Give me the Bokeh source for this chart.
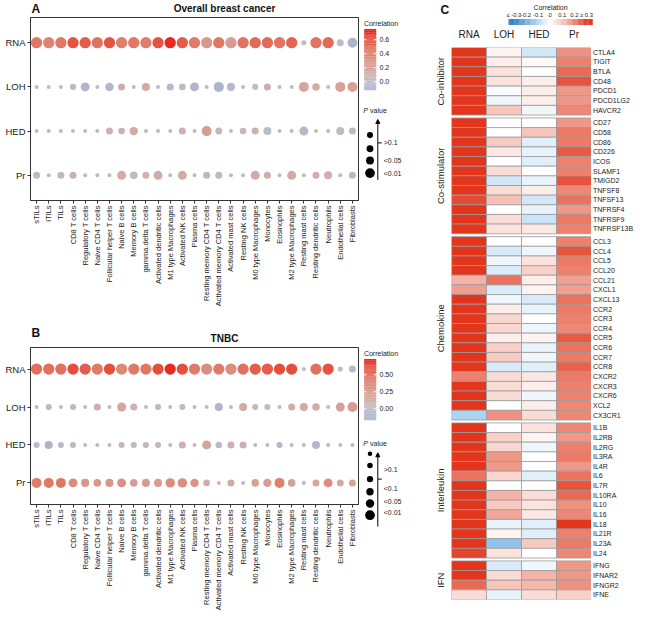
import numpy as np
from bokeh.plotting import figure
from bokeh.layouts import row, column
from bokeh.models import (ColumnDataSource, FactorRange, Range1d, LinearColorMapper, Arrow, NormalHead)
from bokeh.transform import transform
from bokeh.core.properties import value
from bokeh.embed import file_html
from bokeh.resources import INLINE

FONT = "Liberation Sans"
TXT = "#222222"

# ---------------- data: panels A / B ----------------
cells = ["sTILs", "iTILs", "TILs", "CD8 T cells", "Regulatory T cells", "Naive CD4 T cells",
         "Follicular helper T cells", "Naive B cells", "Memory B cells", "gamma.delta T cells",
         "Activated dendritic cells", "M1 type Macrophages", "Activated NK cells", "Plasma cells",
         "Resting memory CD4 T cells", "Activated memory CD4 T cells", "Activated mast cells",
         "Resting NK cells", "M0 type Macrophages", "Monocytes", "Eosinophils", "M2 type Macrophages",
         "Resting mast cells", "Resting dendritic cells", "Neutrophils", "Endothelial cells", "Fibroblasts"]
rows = ["RNA", "LOH", "HED", "Pr"]

# correlation and -log10(P) per row, overall breast cancer
a_rna_r = [.45, .38, .45, .58, .55, .47, .58, .40, .45, .42, .58, .72, .55, .43, .25, .45, .22, .47, .50, .50, .47, .52, .02, .47, .50, .00, -.10]
a_rna_p = [3, 3, 3, 3, 3, 3, 3, 3, 3, 3, 3, 3, 3, 3, 3, 3, 3, 3, 3, 3, 3, 3, .6, 3, 3, 1.35, 2.5]
a_loh_r = [.02, .02, .02, -.02, -.08, .02, -.07, .12, .02, .15, .02, -.05, -.02, -.08, .02, -.10, -.05, .02, .02, .12, .02, .02, .17, .15, .02, .20, .20]
a_loh_p = [.2, .2, .2, 1.0, 2.1, .2, 1.9, 1.35, .2, 1.75, .2, 1.35, 1.2, 2.1, .2, 2.5, 1.75, .2, 1.0, 1.35, .2, .2, 2.5, 1.55, .2, 2.5, 2.5]
a_hed_r = [.03, .03, .03, .03, .03, .03, .10, .08, .15, .03, .03, .03, .12, .03, .22, .03, .03, .03, .10, -.02, .03, .03, -.05, .03, .03, .02, .05]
a_hed_p = [.2, .2, .2, .2, .2, .2, 1.35, 1.2, 1.9, .2, .2, .2, 1.35, .2, 2.5, 1.35, .2, 1.2, 1.35, 1.75, .2, .2, 2.1, .2, .2, 1.75, 1.35]
a_pr_r = [-.03, .03, -.03, .10, .03, .03, .03, .15, -.02, .08, .15, .03, .14, .03, .10, .03, .03, .03, .15, .12, .03, .15, .03, .12, .12, .03, .08]
a_pr_p = [1.35, .2, 1.35, 1.35, .2, .2, .2, 2.1, 1.55, 1.35, 2.1, .2, 2.1, .2, 1.35, 1.35, .2, .2, 2.1, 1.35, .2, 2.1, .2, 1.35, 1.75, .2, 1.35]

# TNBC
b_rna_r = [.48, .48, .48, .60, .55, .43, .60, .35, .45, .45, .60, .72, .60, .43, .30, .43, .30, .48, .55, .55, .60, .60, .00, .48, .58, .02, -.05]
b_rna_p = [3, 3, 3, 3, 3, 3, 3, 3, 3, 3, 3, 3, 3, 3, 3, 3, 3, 3, 3, 3, 3, 3, .3, 3, 3, .6, 1.35]
b_loh_r = [.03, .08, .03, .03, .03, .12, .03, .18, .12, .03, .05, .03, .02, .03, .03, -.10, .03, .15, .05, .05, .03, .12, .15, .15, .03, .20, .22]
b_loh_p = [.2, 1.0, .2, 1.0, .2, 1.35, .2, 2.1, 1.35, .2, 1.0, .2, 1.0, .2, .2, 1.75, .2, 1.75, 1.0, 1.0, .2, 1.35, 1.75, 1.55, .2, 2.1, 2.5]
b_hed_r = [-.02, -.10, -.03, .05, .03, .03, .03, .06, .05, .06, .03, .03, .10, .03, .20, -.02, .10, .12, .03, .03, -.05, .03, .03, -.06, .03, .03, .03]
b_hed_p = [1.0, 1.75, 1.0, 1.0, .2, .2, .2, 1.0, 1.0, 1.0, 1.0, .2, 1.35, .2, 2.1, 1.2, 1.35, 1.35, .2, .2, 1.0, .2, .2, 1.75, .2, .2, .2]
b_pr_r = [.42, .45, .45, .30, .25, .25, .25, .28, .22, .22, .22, .30, .30, .28, .15, .05, .15, .05, .20, .22, .40, .20, .05, .18, .30, .15, .18]
b_pr_p = [2.5, 2.5, 2.5, 2.1, 1.75, 1.55, 1.75, 2.1, 1.55, 1.75, 1.75, 2.3, 2.3, 1.9, 1.2, .2, 1.35, .2, 1.55, 1.9, 2.5, 1.55, .2, 1.35, 2.1, 1.35, 1.35]

# colour-bar ticks and size key (size key values as -log10(P))
a_cb_ticks = [0.0, 0.2, 0.4, 0.6]
a_cb_labels = ["0.0", "0.2", "0.4", "0.6"]
b_cb_ticks = [0.0, 0.25, 0.5]
b_cb_labels = ["0.00", "0.25", "0.50"]
a_key_p = [1.0, 1.3, 1.7, 2.4]
a_key_labels = [">0.1", "<0.05", "<0.01"]
b_key_p = [0.4, 0.8, 1.1, 1.5, 1.9, 2.4]
b_key_labels = [">0.1", "<0.1", "<0.05", "<0.01"]

# ---------------- data: panel C heatmap ----------------
hm_cols = ["RNA", "LOH", "HED", "Pr"]
ci_genes = ["CTLA4", "TIGIT", "BTLA", "CD48", "PDCD1", "PDCD1LG2", "HAVCR2"]
ci_rna = [.35, .35, .35, .35, .35, .35, .35]
ci_loh = [.02, .03, .05, .05, -.01, -.02, .10]
ci_hed = [-.06, .01, .00, .03, .03, .03, -.02]
ci_pr = [.18, .20, .23, .26, .17, .17, .19]

cs_genes = ["CD27", "CD58", "CD86", "CD226", "ICOS", "SLAMF1", "TMIGD2", "TNFSF8", "TNFSF13",
            "TNFRSF4", "TNFRSF9", "TNFRSF13B"]
cs_rna = [.35, .33, .35, .35, .35, .35, .35, .35, .27, .35, .35, .35]
cs_loh = [.00, .00, .09, .04, .00, .06, -.06, .06, .11, .00, .06, .05]
cs_hed = [.00, .10, -.04, -.03, -.04, .00, -.03, .03, -.06, -.03, -.07, .04]
cs_pr = [.17, .21, .21, .25, .20, .20, .26, .19, .22, .17, .21, .20]

ck_genes = ["CCL3", "CCL4", "CCL5", "CCL20", "CCL21", "CXCL1", "CXCL13", "CCR2", "CCR3", "CCR4",
            "CCR5", "CCR6", "CCR7", "CCR8", "CXCR2", "CXCR3", "CXCR6", "XCL2", "CX3CR1"]
ck_rna = [.35, .35, .35, .35, .13, .16, .35, .35, .35, .35, .35, .35, .35, .35, .20, .35, .35, .35, -.11]
ck_loh = [.00, -.05, -.02, -.05, .22, -.05, -.02, .03, .07, .07, .03, .08, .09, -.05, .06, .06, .06, .00, .18]
ck_hed = [.00, -.02, .05, .08, .03, .02, -.05, -.03, .00, -.02, .02, -.03, -.02, -.04, .04, .03, -.02, .03, .06]
ck_pr = [.20, .26, .21, .20, .16, .16, .22, .21, .20, .19, .25, .22, .21, .24, .21, .20, .20, .19, .19]

il_genes = ["IL1B", "IL2RB", "IL2RG", "IL3RA", "IL4R", "IL6", "IL7R", "IL10RA", "IL10", "IL16",
            "IL18", "IL21R", "IL23A", "IL24"]
il_rna = [.30, .35, .35, .35, .35, .22, .35, .35, .35, .35, .35, .35, .33, .28]
il_loh = [.00, .08, .07, .17, .17, .07, .00, .13, .09, .15, -.03, .02, -.15, .05]
il_hed = [.05, .02, -.02, .00, .00, -.04, .00, .06, .05, .04, -.04, -.04, .09, .00]
il_pr = [.19, .17, .20, .21, .17, .22, .26, .23, .18, .19, .33, .20, .21, .19]

ifn_genes = ["IFNG", "IFNAR2", "IFNGR2", "IFNE"]
ifn_rna = [.35, .35, .23, .06]
ifn_loh = [-.05, .06, .10, -.03]
ifn_hed = [-.02, .13, .12, .06]
ifn_pr = [.17, .17, .18, .08]

hm_ticks = [-0.3, -0.2, -0.1, 0.0, 0.1, 0.2, 0.3]
hm_tick_labels = ["\u2264 -0.3", "-0.2", "-0.1", "0", "0.1", "0.2", "\u2265 0.3"]


# ---------------- helpers ----------------
def ramp(anchors, low, high, n=256):
    xs = [a[0] for a in anchors]
    rgb = np.array([[int(h[i:i + 2], 16) for i in (1, 3, 5)] for _, h in anchors], float)
    out = []
    for v in np.linspace(low, high, n):
        c = [int(round(np.interp(v, xs, rgb[:, k]))) for k in range(3)]
        out.append("#%02x%02x%02x" % tuple(c))
    return out


DOT_ANCHORS = [(-0.3, "#9EADD6"), (-0.12, "#A9B4CE"), (0.0, "#BEBDC5"), (0.15, "#D3AAA4"),
               (0.3, "#DC8E7E"), (0.45, "#E07866"), (0.6, "#E4503C"), (0.8, "#E8150F")]


def dot_size(m):
    return 3.5 + 2.6 * min(m, 3.0)


def blank(fig):
    fig.grid.visible = False
    fig.outline_line_color = None
    return fig


def txt(fig, x, y, t, size, **kw):
    fig.text(x=x, y=y, text=t, text_font=value(FONT), text_font_size=value(size),
             text_color=kw.pop("color", TXT), **kw)


def header(letter, title, h, letter_y, title_y):
    f = blank(figure(frame_width=360, frame_height=h, min_border=0,
                     x_range=Range1d(0, 360), y_range=Range1d(h, 0),
                     x_axis_type=None, y_axis_type=None,
                     output_backend="svg", toolbar_location=None))
    txt(f, [1], [letter_y], [letter], "12px", text_font_style="bold", text_baseline="top",
        color="#111111")
    txt(f, [194], [title_y], [title], "10px", text_font_style="bold", text_align="center",
        text_baseline="middle", color="#111111")
    return f


def dot_panel(data, mapper, frame_h):
    xs, ys, cs, ss = [], [], [], []
    for r, (corr, mlp) in zip(rows, data):
        for c, v, m in zip(cells, corr, mlp):
            xs.append(c); ys.append(r); cs.append(v); ss.append(dot_size(m))
    src = ColumnDataSource(dict(cell=xs, row=ys, corr=cs, size=ss))
    p = figure(x_range=FactorRange(*cells),
               y_range=FactorRange(*rows[::-1], range_padding=0.035),
               frame_width=328, frame_height=frame_h,
               min_border_left=30, min_border_right=2, min_border_top=1, min_border_bottom=0,
               output_backend="svg", toolbar_location=None)
    p.scatter("cell", "row", size="size", source=src, fill_color=transform("corr", mapper),
              line_color=None)
    p.xgrid.visible = False
    p.ygrid.visible = False
    p.outline_line_color = "#333333"
    p.outline_line_width = 1
    for ax, fs in ((p.xaxis[0], "7.5px"), (p.yaxis[0], "9.5px")):
        ax.axis_line_color = "#333333"
        ax.major_tick_line_color = "#333333"
        ax.major_tick_out = 3
        ax.major_tick_in = 0
        ax.major_label_standoff = 2
        ax.major_label_text_font = FONT
        ax.major_label_text_font_size = fs
        ax.major_label_text_color = TXT
    p.xaxis.major_label_orientation = np.pi / 2
    return p


def legend_panel(mapper, low, high, ticks, tick_labels, top, frame_h, key_p, key_y, key_labels,
                 label_y, arrow_y0, arrow_y1, tick_y, ptitle_y):
    bar_top, bar_h = 11.7, 61.0          # pixels below the plot frame top
    per_px = (high - low) / bar_h
    cb_range = Range1d(high - (frame_h - bar_top) * per_px, high + bar_top * per_px)
    lf = blank(figure(frame_width=66, frame_height=frame_h, min_border=0, min_border_top=top,
                      x_range=Range1d(0, 66), y_range=Range1d(frame_h, 0),
                      extra_y_ranges={"cb": cb_range},
                      x_axis_type=None, y_axis_type=None,
                      output_backend="svg", toolbar_location=None))
    # colour bar
    g = np.linspace(low, high, 90)
    lf.quad(left=3.7, right=15.7, bottom="b", top="t", y_range_name="cb",
            fill_color=transform("m", mapper), line_color=None,
            source=ColumnDataSource(dict(b=g[:-1], t=g[1:] + (g[1] - g[0]) * 0.3,
                                         m=(g[:-1] + g[1:]) / 2)))
    lf.segment(x0=[3.7] * len(ticks), x1=[6.0] * len(ticks), y0=ticks, y1=ticks,
               y_range_name="cb", line_color="white", line_width=1)
    lf.segment(x0=[13.4] * len(ticks), x1=[15.7] * len(ticks), y0=ticks, y1=ticks,
               y_range_name="cb", line_color="white", line_width=1)
    lf.text(x=[19] * len(ticks), y=ticks, text=tick_labels, y_range_name="cb",
            text_font=value(FONT), text_font_size=value("7px"), text_color=TXT,
            text_baseline="middle")
    txt(lf, [3.4], [5.5], ["Correlation"], "7px", text_baseline="middle")
    # P value key
    txt(lf, [2.7], [ptitle_y], ["P"], "7px", text_font_style="italic", text_baseline="middle")
    txt(lf, [9.6], [ptitle_y], ["value"], "7px", text_baseline="middle")
    lf.scatter(x=[9.5] * len(key_p), y=key_y, size=[dot_size(m) for m in key_p],
               fill_color="black", line_color=None)
    lf.add_layout(Arrow(end=NormalHead(size=4, fill_color="black", line_color="black"),
                        x_start=17.3, y_start=arrow_y0, x_end=17.3, y_end=arrow_y1,
                        line_color="black", line_width=1))
    lf.segment(x0=[17.3], y0=[tick_y], x1=[21.3], y1=[tick_y], line_color="black", line_width=1)
    txt(lf, [23.2] * len(key_labels), label_y, key_labels, "7px", text_baseline="middle")
    return lf


# ---------------- panels A and B ----------------
A_LOW, A_HIGH = -0.12, 0.75
B_LOW, B_HIGH = -0.17, 0.73
map_a = LinearColorMapper(palette=ramp(DOT_ANCHORS, A_LOW, A_HIGH), low=A_LOW, high=A_HIGH)
map_b = LinearColorMapper(palette=ramp(DOT_ANCHORS, B_LOW, B_HIGH), low=B_LOW, high=B_HIGH)

HA, HB = 16, 37          # header heights
A_H, B_H = 183, 157      # frame heights

hdrA = header("A", "Overall breast cancer", HA, 1.5, 7.8)
figA = dot_panel([(a_rna_r, a_rna_p), (a_loh_r, a_loh_p), (a_hed_r, a_hed_p), (a_pr_r, a_pr_p)],
                 map_a, A_H)
hdrB = header("B", "TNBC", HB, 16, 29)
figB = dot_panel([(b_rna_r, b_rna_p), (b_loh_r, b_loh_p), (b_hed_r, b_hed_p), (b_pr_r, b_pr_p)],
                 map_b, B_H)

legA = legend_panel(map_a, A_LOW, A_HIGH, a_cb_ticks, a_cb_labels, HA + 1, A_H, a_key_p,
                    [117.6, 131.2, 143.0, 155.6], a_key_labels, [125.4, 143.0, 155.6],
                    162.4, 102.0, 125.4, 93.2)
legB = legend_panel(map_b, B_LOW, B_HIGH, b_cb_ticks, b_cb_labels, HB + 1, 185, b_key_p,
                    [106.3, 118.0, 131.6, 144.3, 156.0, 167.7], b_key_labels,
                    [121.9, 141.4, 154.0, 164.8], 179.0, 105.3, 131.6, 95.5)

# ---------------- panel C ----------------
HM_ANCHORS = [(-0.3, "#2E7FC6"), (-0.15, "#8FC3EC"), (0.0, "#FFFFFF"), (0.15, "#F2A899"),
              (0.3, "#E2351C")]
map_c = LinearColorMapper(palette=ramp(HM_ANCHORS, -0.3, 0.3), low=-0.3, high=0.3)

# colour key for C (bar spans pixels 82..166 of the strip, for values -0.345..0.35)
C_W, C_H = 207, 25
c_lo, c_hi, c_px0, c_px1 = -0.345, 0.35, 82.0, 166.0
k = (c_hi - c_lo) / (c_px1 - c_px0)
legC = blank(figure(frame_width=C_W, frame_height=C_H, min_border=0,
                    x_range=Range1d(c_lo - c_px0 * k, c_lo + (C_W - c_px0) * k),
                    y_range=Range1d(C_H, 0), x_axis_type=None, y_axis_type=None,
                    output_backend="svg", toolbar_location=None))
gc = np.linspace(c_lo, c_hi, 100)
legC.quad(left="l", right="r", bottom=24.4, top=18.5, fill_color=transform("m", map_c),
          line_color=None,
          source=ColumnDataSource(dict(l=gc[:-1], r=gc[1:] + (gc[1] - gc[0]) * 0.3,
                                       m=(gc[:-1] + gc[1:]) / 2)))
txt(legC, hm_ticks, [14.6] * len(hm_ticks), hm_tick_labels, "5.8px", text_align="center",
    text_baseline="middle")
txt(legC, [(c_lo + c_hi) / 2], [6.8], ["Correlation"], "7px", text_align="center",
    text_baseline="middle")
txt(legC, [c_lo - (c_px0 - 14) * k], [2.5], ["C"], "12px", text_font_style="bold",
    text_baseline="top", color="#111111")

hm_groups = [("Co-inhibitor", ci_genes, ci_rna, ci_loh, ci_hed, ci_pr),
             ("Co-stimulator", cs_genes, cs_rna, cs_loh, cs_hed, cs_pr),
             ("Chemokine", ck_genes, ck_rna, ck_loh, ck_hed, ck_pr),
             ("Interleukin", il_genes, il_rna, il_loh, il_hed, il_pr),
             ("IFN", ifn_genes, ifn_rna, ifn_loh, ifn_hed, ifn_pr)]
factors, hx, hy, hv = [], [], [], []
for g_name, genes, *vals in hm_groups:
    for i, gene in enumerate(genes):
        factors.append((g_name, gene))
        for col, arr in zip(hm_cols, vals):
            hx.append(col); hy.append((g_name, gene)); hv.append(arr[i])
yr = FactorRange(*factors[::-1], group_padding=0.3, factor_padding=0.0)

HM_H, HM_TOP, HM_BOT = 552, 18, 8
grp = blank(figure(frame_width=25, frame_height=HM_H, min_border=0, min_border_top=HM_TOP,
                   min_border_bottom=HM_BOT,
                   x_range=Range1d(0, 25), y_range=yr, x_axis_type=None, y_axis_type=None,
                   output_backend="svg", toolbar_location=None))
txt(grp, [14] * len(hm_groups), [g[0] for g in hm_groups], [g[0] for g in hm_groups], "9.5px",
    angle=np.pi / 2, text_align="center", text_baseline="middle")

hm = figure(x_range=FactorRange(*hm_cols), y_range=yr,
            frame_width=140, frame_height=HM_H,
            min_border=0, min_border_top=HM_TOP, min_border_bottom=HM_BOT,
            x_axis_location="above", y_axis_location=None,
            output_backend="svg", toolbar_location=None)
hm.rect(x="col", y="fac", width=1, height=1, source=ColumnDataSource(dict(col=hx, fac=hy, v=hv)),
        fill_color=transform("v", map_c), line_color="#9b9b9b", line_width=0.8)
hm.grid.visible = False
hm.outline_line_color = None
hm.xaxis.axis_line_color = None
hm.xaxis.major_tick_line_color = None
hm.xaxis.major_label_standoff = 2
hm.xaxis.major_label_text_font = FONT
hm.xaxis.major_label_text_font_size = "10px"
hm.xaxis.major_label_text_color = TXT

gene_lab = blank(figure(frame_width=42, frame_height=HM_H, min_border=0, min_border_top=HM_TOP,
                        min_border_bottom=HM_BOT,
                        x_range=Range1d(0, 42), y_range=yr, x_axis_type=None, y_axis_type=None,
                        output_backend="svg", toolbar_location=None))
txt(gene_lab, [1.5] * len(factors), factors, [f[1] for f in factors], "7px",
    text_baseline="middle")

left = column(row(column(hdrA, figA), legA), row(column(hdrB, figB), legB))
right = column(legC, row(grp, hm, gene_lab))
page = row(left, right)

open("out.html", "w").write(file_html(page, INLINE))
